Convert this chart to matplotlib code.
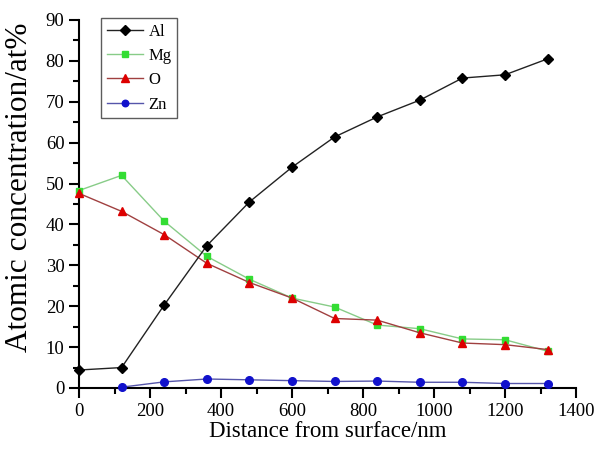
import matplotlib
matplotlib.use("Agg")
import matplotlib.pyplot as plt
from matplotlib.ticker import MultipleLocator

plt.rcParams['font.family'] = ['Liberation Serif', 'DejaVu Serif']

depth = [0, 120, 240, 360, 480, 600, 720, 840, 960, 1080, 1200, 1320]
al = [4.4, 5.0, 20.3, 34.8, 45.5, 54.0, 61.4, 66.3, 70.4, 75.8, 76.6, 80.5]
mg = [48.3, 52.0, 40.8, 32.2, 26.6, 22.0, 19.8, 15.4, 14.5, 12.0, 11.8, 9.0]
o = [47.6, 43.2, 37.5, 30.5, 25.8, 22.0, 17.0, 16.6, 13.5, 11.0, 10.6, 9.4]
depth_zn = [120, 240, 360, 480, 600, 720, 840, 960, 1080, 1200, 1320]
zn = [0.2, 1.5, 2.2, 2.0, 1.8, 1.6, 1.7, 1.4, 1.4, 1.1, 1.1]

fig = plt.figure(figsize=(5.95, 4.57), dpi=100)
ax = fig.add_axes([79/595, 69/457, 497/595, 368/457])

ax.plot(depth, al, color='#222222', lw=1.0, marker='D', ms=5.5, mfc='black', mec='black', label='Al', clip_on=False, zorder=4)
ax.plot(depth, mg, color='#88cc88', lw=1.0, marker='s', ms=5, mfc='#33dd33', mec='#33dd33', label='Mg', clip_on=False, zorder=3)
ax.plot(depth, o, color='#a04040', lw=1.0, marker='^', ms=6, mfc='#dd0000', mec='#dd0000', label='O', clip_on=False, zorder=3)
ax.plot(depth_zn, zn, color='#5555aa', lw=1.0, marker='o', ms=5.5, mfc='#1111cc', mec='#1111cc', label='Zn', clip_on=False, zorder=3)

ax.set_xlim(0, 1400)
ax.set_ylim(0, 90)
ax.xaxis.set_major_locator(MultipleLocator(200))
ax.xaxis.set_minor_locator(MultipleLocator(100))
ax.yaxis.set_major_locator(MultipleLocator(10))
ax.yaxis.set_minor_locator(MultipleLocator(5))
ax.spines['top'].set_visible(False)
ax.spines['right'].set_visible(False)
for s in ('left', 'bottom'):
    ax.spines[s].set_linewidth(1.5)
ax.tick_params(which='major', direction='out', length=7, width=1.5, labelsize=13.5)
ax.tick_params(which='minor', direction='out', length=4, width=1.5)

ax.set_xlabel('Distance from surface/nm', fontsize=16.5, labelpad=1)
ax.set_ylabel('Atomic concentration/at%', fontsize=22.5)
ax.yaxis.set_label_coords(-0.09, 0.545)

leg = ax.legend(loc='upper left', bbox_to_anchor=(0.044, 1.006), borderaxespad=0,
                fontsize=12, frameon=True, fancybox=False, edgecolor='#333333',
                handlelength=2.2, handletextpad=0.3, borderpad=0.35, labelspacing=0.5,
                markerscale=0.85)
leg.get_frame().set_linewidth(1.0)

fig.savefig('out.png', dpi=100)
